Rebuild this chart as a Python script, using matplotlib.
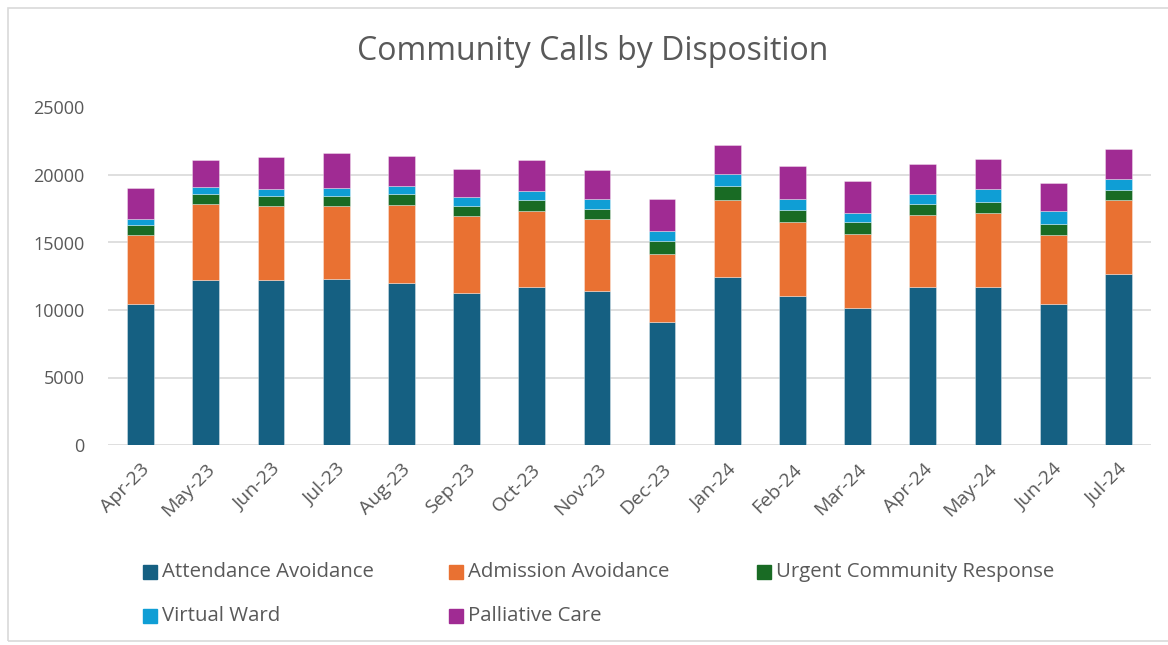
import matplotlib.pyplot as plt
import matplotlib.patches as mpatches
import numpy as np

plt.rcParams['font.family'] = ['Open Sans', 'DejaVu Sans']

months = ["Apr-23", "May-23", "Jun-23", "Jul-23", "Aug-23", "Sep-23", "Oct-23", "Nov-23",
          "Dec-23", "Jan-24", "Feb-24", "Mar-24", "Apr-24", "May-24", "Jun-24", "Jul-24"]

attendance_avoidance = [10470, 12250, 12250, 12270, 12030, 11280, 11730, 11410,
                        9140, 12420, 11010, 10170, 11730, 11730, 10470, 12670]
admission_avoidance = [5090, 5630, 5430, 5430, 5750, 5660, 5600, 5330,
                       4990, 5750, 5530, 5460, 5310, 5460, 5090, 5480]
urgent_community_response = [760, 740, 770, 770, 840, 790, 840, 770,
                             1010, 1040, 890, 910, 840, 810, 840, 770]
virtual_ward = [400, 490, 520, 570, 540, 620, 620, 690,
                740, 840, 790, 670, 690, 960, 910, 790]
palliative_care = [2320, 2030, 2350, 2620, 2220, 2120, 2350, 2170,
                   2320, 2200, 2470, 2320, 2250, 2250, 2120, 2250]

series = [
    ("Attendance Avoidance", attendance_avoidance, "#156082"),
    ("Admission Avoidance", admission_avoidance, "#E97132"),
    ("Urgent Community Response", urgent_community_response, "#196B24"),
    ("Virtual Ward", virtual_ward, "#0F9ED5"),
    ("Palliative Care", palliative_care, "#A02B93"),
]

text_color = "#595959"
W, H = 1168, 645

fig = plt.figure(figsize=(W / 100, H / 100), dpi=100)
ax = fig.add_axes([108 / W, 1 - 445 / H, 1043 / W, 337.5 / H])

x = np.arange(len(months))
bottom = np.zeros(len(months))
for name, values, color in series:
    vals = np.array(values, dtype=float)
    ax.bar(x, vals, width=0.41, bottom=bottom, color=color,
           edgecolor=(1, 1, 1, 0.4), linewidth=0.6, zorder=3)
    bottom += vals

ax.set_xlim(-0.5, len(months) - 0.5)
ax.set_ylim(0, 25000)
ax.set_yticks(np.arange(0, 25001, 5000))
ax.yaxis.grid(True, color="#D9D9D9", linewidth=1.2, zorder=0)
ax.set_axisbelow(True)
for spine in ax.spines.values():
    spine.set_visible(False)
ax.tick_params(axis="both", length=0, colors=text_color)
ax.tick_params(axis="y", pad=17, labelsize=13)
ax.tick_params(axis="x", pad=11, labelsize=14)
ax.set_xticks(x)
ax.set_xticklabels(months, rotation=45, ha="right", rotation_mode="anchor")

fig.text(593 / W, 1 - 52 / H, "Community Calls by Disposition", ha="center", va="center",
         fontsize=23, color=text_color)

# legend laid out in rows like the spreadsheet one: 3 entries, then 2
legend_slots = [(143, 572), (449, 572), (757, 572), (143, 616), (449, 616)]
for (name, _, color), (px, py) in zip(series, legend_slots):
    fig.add_artist(mpatches.Rectangle((px / W, 1 - (py + 7) / H), 14 / W, 14 / H,
                                      transform=fig.transFigure, color=color))
    fig.text((px + 19) / W, 1 - py / H, name, ha="left", va="center",
             fontsize=14.7, color=text_color)

# outer chart border
fig.add_artist(mpatches.Rectangle((8 / W, 4 / H), 1.0, 1 - 12 / H, transform=fig.transFigure,
                                  fill=False, edgecolor="#D9D9D9", linewidth=1.2))

fig.savefig("out.png", dpi=100)
